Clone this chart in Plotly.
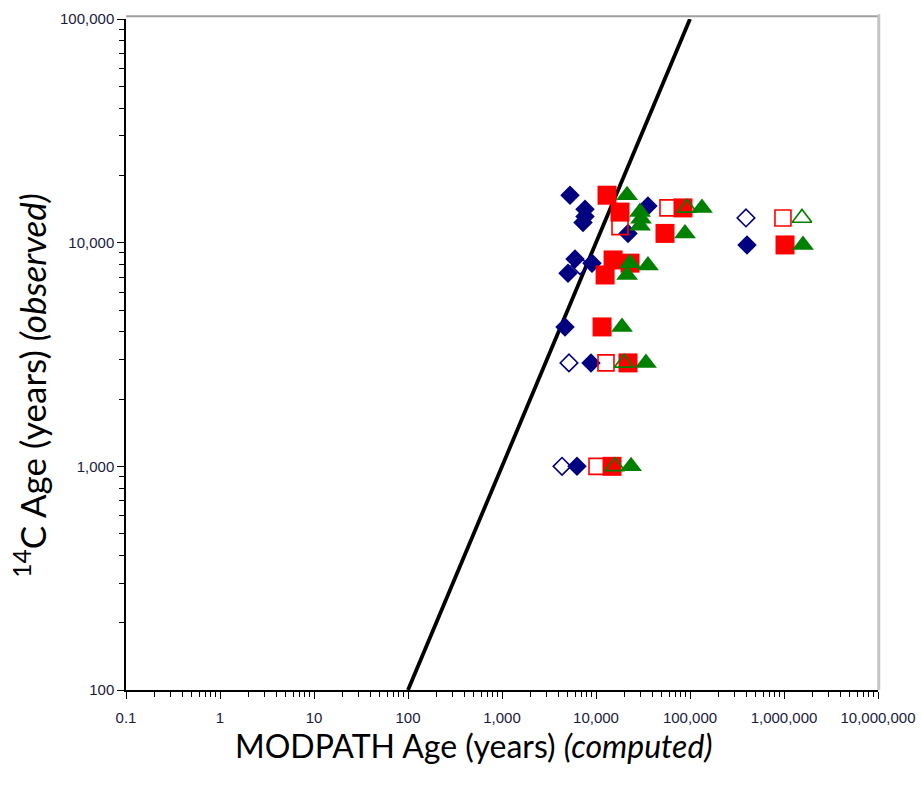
import plotly.graph_objects as go

# ---- data (computed MODPATH age vs observed 14C age, years) ----
line_x = [100, 100000]
line_y = [100, 100000]

fd_x = [5290, 35700, 7640, 7640, 7270, 21900, 5980, 9060, 5040, 4680, 8850, 6280, 404000]
fd_y = [16300, 14600, 14100, 13100, 12300, 11000, 8450, 8100, 7300, 4200, 2900, 1000, 9770]

od_x = [4350, 5160, 6760, 394000]
od_y = [1000, 2900, 7900, 12900]

fs_x = [13100, 84200, 18000, 54200, 15200, 23000, 12500, 11600, 21900, 14800, 1025000]
fs_y = [16300, 14300, 13700, 11000, 8370, 8100, 7170, 4200, 2900, 1000, 9770]

os_x = [58300, 975000, 10250, 12770, 18000]
os_y = [14300, 12900, 1000, 2900, 11800]

ft_x = [21400, 134000, 29400, 30100, 29400, 88500, 23000, 35700, 21400, 18900, 34000, 23600, 1592000]
ft_y = [16300, 14300, 13700, 12800, 11900, 11000, 8100, 7900, 7170, 4200, 2900, 1000, 9770]

ot_x = [92900, 1553000, 15900, 19900]
ot_y = [14300, 12900, 1000, 2900]

x_tickvals = [0.1, 1, 10, 100, 1000, 10000, 100000, 1000000, 10000000]
x_ticktext = ["0.1", "1", "10", "100", "1,000", "10,000", "100,000", "1,000,000", "10,000,000"]
y_tickvals = [100, 1000, 10000, 100000]
y_ticktext = ["100", "1,000", "10,000", "100,000"]

NAVY = "#000080"
RED = "#FF0000"
GREEN = "#008000"

fig = go.Figure()
fig.add_trace(go.Scatter(x=line_x, y=line_y, mode="lines",
                         line=dict(color="black", width=3.8), showlegend=False))
fig.add_trace(go.Scatter(x=fd_x, y=fd_y, mode="markers",
                         marker=dict(symbol="diamond", size=15, color=NAVY,
                                     line=dict(width=0)), showlegend=False))
fig.add_trace(go.Scatter(x=od_x, y=od_y, mode="markers",
                         marker=dict(symbol="diamond-open", size=13.5, color=NAVY,
                                     line=dict(width=1.6, color=NAVY)), showlegend=False))
fig.add_trace(go.Scatter(x=fs_x, y=fs_y, mode="markers",
                         marker=dict(symbol="square", size=19, color=RED,
                                     line=dict(width=0)), showlegend=False))
fig.add_trace(go.Scatter(x=os_x, y=os_y, mode="markers",
                         marker=dict(symbol="square-open", size=16, color=RED,
                                     line=dict(width=1.6, color=RED)), showlegend=False))
fig.add_trace(go.Scatter(x=ft_x, y=ft_y, mode="markers",
                         marker=dict(symbol="triangle-up", size=19, color=GREEN,
                                     line=dict(width=0)), showlegend=False))
fig.add_trace(go.Scatter(x=ot_x, y=ot_y, mode="markers",
                         marker=dict(symbol="triangle-up-open", size=17, color=GREEN,
                                     line=dict(width=1.6, color=GREEN)), showlegend=False))

tickfont = dict(family="Liberation Sans, Arial, sans-serif", size=15, color="#1a1a40")

fig.update_xaxes(type="log", range=[-1, 7], tickmode="array",
                 tickvals=x_tickvals, ticktext=x_ticktext, automargin=False,
                 showgrid=False, zeroline=False,
                 showline=True, linecolor="black", linewidth=1.5,
                 ticks="outside", ticklen=7, tickwidth=1.2, tickcolor="black",
                 ticklabelstandoff=6,
                 minor=dict(ticks="outside", ticklen=5, tickwidth=1, tickcolor="black",
                            dtick="D1", showgrid=False),
                 tickfont=tickfont)
fig.update_yaxes(type="log", range=[2, 5], tickmode="array",
                 tickvals=y_tickvals, ticktext=y_ticktext, automargin=False,
                 showgrid=False, zeroline=False,
                 showline=True, linecolor="black", linewidth=1.5,
                 ticks="outside", ticklen=7, tickwidth=1.2, tickcolor="black",
                 minor=dict(ticks="outside", ticklen=5, tickwidth=1, tickcolor="black",
                            dtick="D1", showgrid=False),
                 tickfont=tickfont)

# frame (top and right)
fig.add_shape(type="line", xref="paper", yref="paper", x0=0, x1=1, y0=1.004, y1=1.004,
              line=dict(color="#A0A0A0", width=2))
fig.add_shape(type="line", xref="paper", yref="paper", x0=1.001, x1=1.001, y0=0, y1=1.007,
              line=dict(color="#C4C4C4", width=3))

fig.add_annotation(text="MODPATH Age (years) <i>(computed)</i>", xref="paper", yref="paper",
                   x=0.4628, y=-0.082, xanchor="center", yanchor="middle",
                   showarrow=False,
                   font=dict(family="Lato, Open Sans, sans-serif", size=32, color="black"))
fig.add_annotation(text="<sup>14</sup>C Age (years) <i>(observed)</i>", xref="paper", yref="paper",
                   x=-0.1277, y=0.455, xanchor="center", yanchor="middle", textangle=-90,
                   showarrow=False,
                   font=dict(family="Lato, Open Sans, sans-serif", size=35, color="black"))

fig.update_layout(width=922, height=786, margin=dict(l=126, r=44, t=19, b=96),
                  paper_bgcolor="white", plot_bgcolor="white", showlegend=False)

fig.write_html("out.html")
